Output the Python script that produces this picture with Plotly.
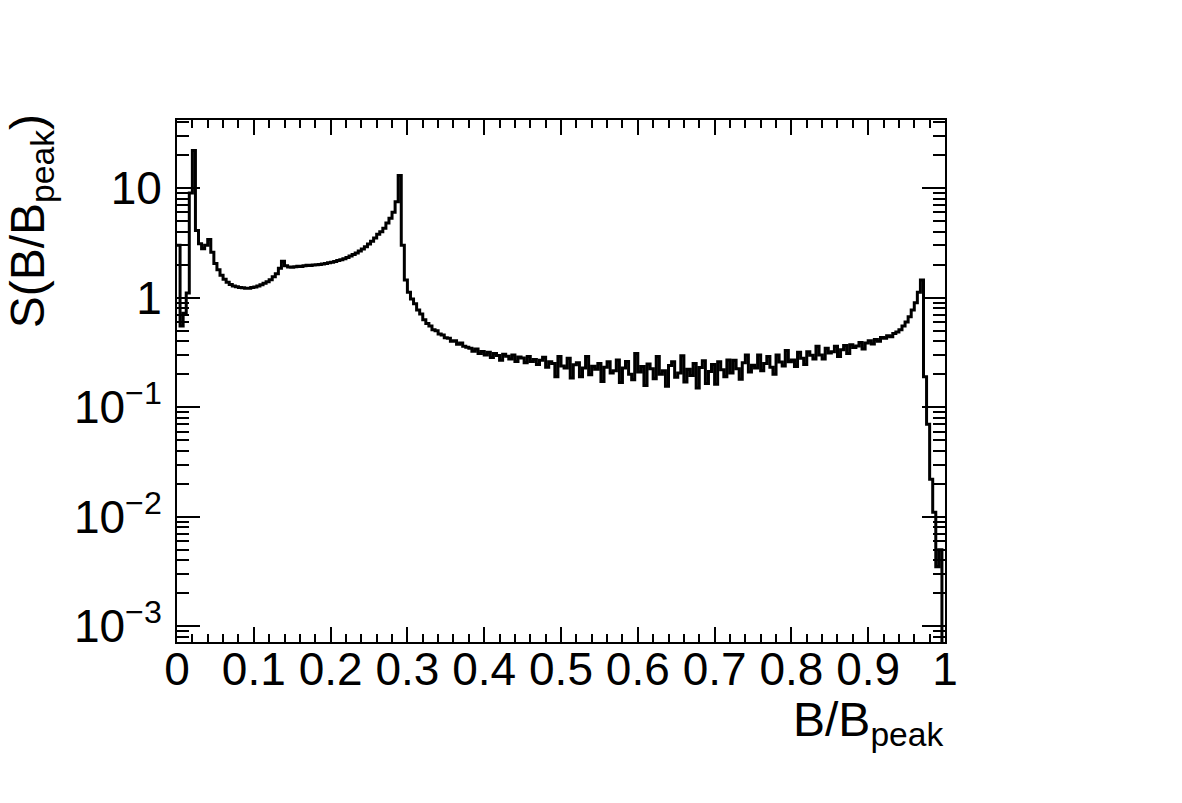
import numpy as np
import plotly.graph_objects as go

# ---------------- data ----------------
X_MIN, X_MAX, N_BINS = 0.0, 1.0, 250

S_VALUES = [
    # 0-9
    3.0, 0.55, 0.72, 1.1, 9.0, 22.0, 4.1, 3.1, 2.8, 3.0,
    # 10-19
    3.4, 2.6, 2.05, 1.8, 1.6, 1.47, 1.38, 1.32, 1.28, 1.26,
    # 20-29
    1.24, 1.23, 1.22, 1.22, 1.24, 1.25, 1.28, 1.31, 1.35, 1.4,
    # 30-39
    1.46, 1.55, 1.65, 1.85, 2.15, 1.95, 1.9, 1.89, 1.91, 1.93,
    # 40-49
    1.92, 1.95, 1.97, 1.96, 1.99, 2.0, 2.01, 2.03, 2.05, 2.08,
    # 50-59
    2.1, 2.14, 2.18, 2.22, 2.27, 2.33, 2.4, 2.47, 2.56, 2.66,
    # 60-69
    2.78, 2.92, 3.08, 3.27, 3.5, 3.78, 4.0, 4.3, 4.8, 5.3,
    # 70-79
    6.0, 7.5, 13.0, 3.0, 1.45, 1.12, 0.97, 0.88, 0.77, 0.71,
    # 80-89
    0.63, 0.58, 0.55, 0.51, 0.5, 0.465, 0.455, 0.43, 0.425, 0.4,
    # 90-99
    0.405, 0.375, 0.385, 0.36, 0.352, 0.345, 0.325, 0.34, 0.31, 0.322,
    # 100-109
    0.30, 0.318, 0.285, 0.31, 0.296, 0.268, 0.305, 0.292, 0.276, 0.3,
    # 110-119
    0.262, 0.288, 0.281, 0.255, 0.29, 0.262, 0.272, 0.245, 0.268, 0.286,
    # 120-129
    0.232, 0.26, 0.25, 0.19, 0.29, 0.238, 0.228, 0.28, 0.185, 0.244,
    # 130-139
    0.255, 0.19, 0.228, 0.29, 0.198, 0.236, 0.222, 0.25, 0.172, 0.232,
    # 140-149
    0.26, 0.205, 0.215, 0.27, 0.168, 0.228, 0.262, 0.2, 0.178, 0.31,
    # 150-159
    0.21, 0.235, 0.158, 0.248, 0.225, 0.182, 0.29, 0.2, 0.215, 0.155,
    # 160-169
    0.24, 0.26, 0.188, 0.205, 0.295, 0.17, 0.222, 0.195, 0.25, 0.15,
    # 170-179
    0.23, 0.265, 0.165, 0.212, 0.245, 0.162, 0.26, 0.22, 0.19, 0.27,
    # 180-189
    0.205, 0.268, 0.225, 0.18, 0.255, 0.3, 0.21, 0.242, 0.228, 0.3,
    # 190-199
    0.215, 0.25, 0.29, 0.232, 0.2, 0.3, 0.258, 0.238, 0.33, 0.26,
    # 200-209
    0.27, 0.235, 0.318, 0.28, 0.245, 0.32, 0.298, 0.275, 0.36, 0.3,
    # 210-219
    0.275, 0.345, 0.312, 0.32, 0.36, 0.29, 0.335, 0.365, 0.31, 0.372,
    # 220-229
    0.35, 0.362, 0.39, 0.34, 0.385, 0.405, 0.378, 0.415, 0.4, 0.432,
    # 230-239
    0.425, 0.448, 0.44, 0.47, 0.485, 0.51, 0.55, 0.6, 0.67, 0.77,
    # 240-249
    0.9, 1.12, 1.45, 0.19, 0.07, 0.022, 0.011, 0.0035, 0.005, 0.0006,
]

X_TICKS = [0, 0.1, 0.2, 0.3, 0.4, 0.5, 0.6, 0.7, 0.8, 0.9, 1]
X_TICK_LABELS = ["0", "0.1", "0.2", "0.3", "0.4", "0.5", "0.6", "0.7", "0.8", "0.9", "1"]
Y_TICKS = [1e-3, 1e-2, 1e-1, 1, 10]
Y_TICK_LABELS = ["10<sup>\u22123</sup>", "10<sup>\u22122</sup>", "10<sup>\u22121</sup>", "1", "10"]
Y_RANGE = [0.00072, 41.8]

# ---------------- figure ----------------
edges = np.linspace(X_MIN, X_MAX, N_BINS + 1)
y_step = list(S_VALUES) + [S_VALUES[-1]]

minor_y = [k * 10.0 ** d for d in range(-4, 2) for k in range(2, 10)]

FONT = "Liberation Sans, Arial, Helvetica, sans-serif"
LABEL_SIZE = 46
TITLE_SIZE = 48

fig = go.Figure()
fig.add_trace(go.Scatter(
    x=edges, y=y_step, mode="lines",
    line=dict(color="black", width=3, shape="hv"),
    showlegend=False, hoverinfo="skip",
))

fig.update_layout(
    width=1182, height=803,
    margin=dict(l=177, r=237, t=120, b=161, pad=0),
    paper_bgcolor="white", plot_bgcolor="white",
    font=dict(family=FONT, color="black", size=LABEL_SIZE),
    xaxis=dict(
        range=[X_MIN, X_MAX], tickvals=X_TICKS, ticktext=X_TICK_LABELS,
        ticks="inside", ticklen=15, tickwidth=1.5, tickcolor="black",
        showline=True, linewidth=2, linecolor="black", mirror="ticks",
        showgrid=False, zeroline=False,
        tickfont=dict(size=LABEL_SIZE, family=FONT),
        ticklabelstandoff=-14,
        minor=dict(tick0=0, dtick=0.02, ticks="inside", ticklen=8,
                   tickwidth=1.5, tickcolor="black", showgrid=False),
    ),
    yaxis=dict(
        type="log", range=[np.log10(Y_RANGE[0]), np.log10(Y_RANGE[1])],
        tickvals=Y_TICKS, ticktext=Y_TICK_LABELS,
        ticks="inside", ticklen=23, tickwidth=1.5, tickcolor="black",
        showline=True, linewidth=2, linecolor="black", mirror="ticks",
        showgrid=False, zeroline=False,
        tickfont=dict(size=LABEL_SIZE, family=FONT),
        ticklabelstandoff=4,
        minor=dict(tickvals=minor_y, ticks="inside", ticklen=12,
                   tickwidth=1.5, tickcolor="black", showgrid=False),
    ),
    annotations=[
        dict(text="B/B<sub>peak</sub>", xref="paper", yref="paper",
             x=1.0, y=-0.094, xanchor="right", yanchor="top",
             showarrow=False, font=dict(size=TITLE_SIZE, family=FONT)),
        dict(text="S(B/B<sub>peak</sub>)", xref="paper", yref="paper",
             x=-0.19, y=1.015, xanchor="center", yanchor="top",
             textangle=-90, showarrow=False, font=dict(size=TITLE_SIZE, family=FONT)),
    ],
)

fig.write_html("out.html")
